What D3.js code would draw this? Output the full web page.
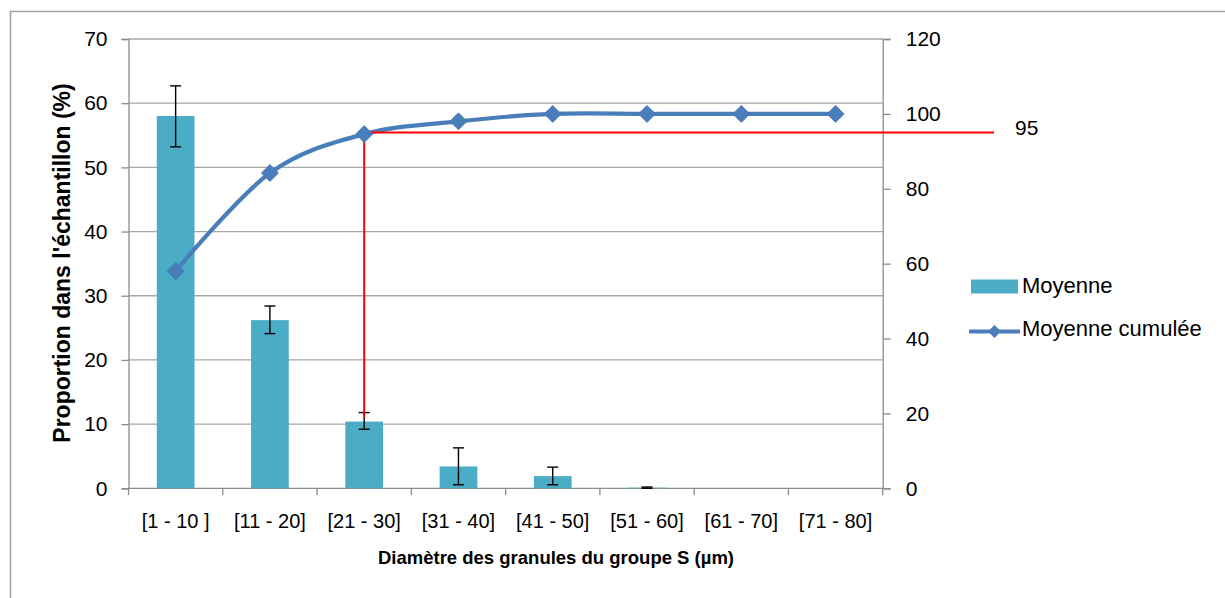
<!DOCTYPE html>
<html>
<head>
<meta charset="utf-8">
<script src="https://cdn.jsdelivr.net/npm/d3@7"></script>
<style>
  html, body { margin: 0; padding: 0; background: #fff; overflow: hidden; }
  svg { display: block; font-family: "Liberation Sans", Arial, sans-serif; }
</style>
</head>
<body>
<svg id="chart" width="1225" height="598"></svg>
<script>
// ---- data ----
const categories = ["[1 - 10 ]", "[11 - 20]", "[21 - 30]", "[31 - 40]", "[41 - 50]", "[51 - 60]", "[61 - 70]", "[71 - 80]"];
const moyenne = [58.0, 26.2, 10.4, 3.4, 1.9, 0.1, 0, 0];
const errUpper = [62.7, 28.4, 11.8, 6.3, 3.3, 0.2, null, null];
const errLower = [53.2, 24.1, 9.2, 0.55, 0.55, 0.0, null, null];
const cumulee = [58.0, 84.2, 94.6, 98.0, 100.0, 100.0, 100.0, 100.0];
const leftTicks = [0, 10, 20, 30, 40, 50, 60, 70];
const rightTicks = [0, 20, 40, 60, 80, 100, 120];
const thresholdValue = 95;
const thresholdCategory = "[21 - 30]";
const thresholdBottomLeft = 11;
const seriesNames = ["Moyenne", "Moyenne cumulée"];
const xTitle = "Diamètre des granules du groupe S (µm)";
const yTitle = "Proportion dans l'échantillon (%)";

// ---- layout ----
const svg = d3.select("#chart");
const L = 128.5, R = 882.7, T = 39, B = 488.3;
const barColor = "#4BACC6", lineColor = "#4A7EBB", gridColor = "#a6a6a6", axisColor = "#8c8c8c";

const x = d3.scaleBand().domain(categories).range([L, R]).padding(0);
const yL = d3.scaleLinear().domain([0, 70]).range([B, T]);
const yR = d3.scaleLinear().domain([0, 120]).range([B, T]);
const cx = c => x(c) + x.bandwidth() / 2;
const barW = x.bandwidth() * 0.4;

// outer frame
svg.append("rect").attr("x", 10.5).attr("y", 11.5).attr("width", 1400).attr("height", 800)
  .attr("fill", "none").attr("stroke", "#a0a0a0").attr("stroke-width", 1.5);

// gridlines
svg.append("g").selectAll("line").data(leftTicks.filter(d => d > 0)).join("line")
  .attr("x1", L).attr("x2", R).attr("y1", d => yL(d)).attr("y2", d => yL(d))
  .attr("stroke", gridColor).attr("stroke-width", 1.3);

// left axis
const gL = svg.append("g").attr("transform", `translate(${L},0)`)
  .call(d3.axisLeft(yL).tickValues(leftTicks).tickSize(7).tickPadding(14));
gL.select(".domain").attr("stroke", axisColor).attr("stroke-width", 1.3);
gL.selectAll(".tick line").attr("stroke", axisColor).attr("stroke-width", 1.3);
gL.selectAll("text").attr("font-size", 21).attr("fill", "#000")
  .attr("font-family", "Liberation Sans, Arial, sans-serif");

// right axis
const gR = svg.append("g").attr("transform", `translate(${R},0)`)
  .call(d3.axisRight(yR).tickValues(rightTicks).tickSize(8).tickPadding(15));
gR.select(".domain").attr("stroke", axisColor).attr("stroke-width", 1.3);
gR.selectAll(".tick line").attr("stroke", axisColor).attr("stroke-width", 1.3);
gR.selectAll("text").attr("font-size", 21).attr("fill", "#000")
  .attr("font-family", "Liberation Sans, Arial, sans-serif");

// bottom axis: ticks at category boundaries
const gB = svg.append("g").attr("transform", `translate(0,${B})`);
gB.append("line").attr("x1", L).attr("x2", R).attr("y1", 0).attr("y2", 0)
  .attr("stroke", axisColor).attr("stroke-width", 1.3);
const boundaries = categories.map(c => x(c)).concat([x(categories[categories.length - 1]) + x.bandwidth()]);
gB.selectAll("line.tk").data(boundaries).join("line").attr("class", "tk")
  .attr("x1", d => d).attr("x2", d => d).attr("y1", 0).attr("y2", 7)
  .attr("stroke", axisColor).attr("stroke-width", 1.3);
gB.selectAll("text").data(categories).join("text")
  .attr("x", d => cx(d)).attr("y", 40).attr("text-anchor", "middle")
  .attr("font-size", 20).attr("fill", "#000").text(d => d);

// bars
svg.append("g").selectAll("rect").data(categories.map((c, i) => ({ c, v: moyenne[i] }))).join("rect")
  .attr("x", d => cx(d.c) - barW / 2).attr("width", barW)
  .attr("y", d => yL(d.v)).attr("height", d => B - yL(d.v))
  .attr("fill", barColor);

// error bars
const errData = categories.map((c, i) => ({ c, hi: errUpper[i], lo: errLower[i] })).filter(d => d.hi !== null);
const gE = svg.append("g").attr("stroke", "#000").attr("stroke-width", 1.4);
gE.selectAll("line.v").data(errData).join("line").attr("class", "v")
  .attr("x1", d => cx(d.c)).attr("x2", d => cx(d.c)).attr("y1", d => yL(d.hi)).attr("y2", d => yL(d.lo));
gE.selectAll("line.h1").data(errData).join("line").attr("class", "h1")
  .attr("x1", d => cx(d.c) - 5.5).attr("x2", d => cx(d.c) + 5.5).attr("y1", d => yL(d.hi)).attr("y2", d => yL(d.hi));
gE.selectAll("line.h2").data(errData).join("line").attr("class", "h2")
  .attr("x1", d => cx(d.c) - 5.5).attr("x2", d => cx(d.c) + 5.5).attr("y1", d => yL(d.lo)).attr("y2", d => yL(d.lo));

// cumulative line
const pts = categories.map((c, i) => [cx(c), yR(cumulee[i])]);
svg.append("path").datum(pts)
  .attr("d", d3.line().curve(d3.curveCatmullRom.alpha(0)))
  .attr("fill", "none").attr("stroke", lineColor).attr("stroke-width", 4.2).attr("stroke-linecap", "round");

// threshold red lines
const tx = cx(thresholdCategory);
svg.append("line").attr("x1", tx).attr("x2", tx).attr("y1", yL(thresholdBottomLeft)).attr("y2", yR(thresholdValue))
  .attr("stroke", "#ff0000").attr("stroke-width", 2);
svg.append("line").attr("x1", tx).attr("x2", 994).attr("y1", yR(thresholdValue)).attr("y2", yR(thresholdValue))
  .attr("stroke", "#ff0000").attr("stroke-width", 2);
svg.append("text").attr("x", 1015).attr("y", yR(thresholdValue) - 3).attr("dominant-baseline", "middle")
  .attr("font-size", 21).attr("fill", "#000").text(String(thresholdValue));

// markers
const diamond = "M0,-8.5L8.5,0L0,8.5L-8.5,0Z";
svg.append("g").selectAll("path").data(pts).join("path")
  .attr("d", diamond).attr("transform", d => `translate(${d[0]},${d[1]})`)
  .attr("fill", lineColor).attr("stroke", "#4374b0").attr("stroke-width", 0.8);

// legend
const lg = svg.append("g");
lg.append("rect").attr("x", 971).attr("y", 279.5).attr("width", 47).attr("height", 14).attr("fill", barColor);
lg.append("text").attr("x", 1022).attr("y", 287).attr("dominant-baseline", "middle")
  .attr("font-size", 22).attr("fill", "#000").text(seriesNames[0]);
lg.append("line").attr("x1", 969).attr("x2", 1020).attr("y1", 331.5).attr("y2", 331.5)
  .attr("stroke", lineColor).attr("stroke-width", 4);
lg.append("path").attr("d", "M0,-6.5L6.5,0L0,6.5L-6.5,0Z").attr("transform", "translate(994.5,331.5)")
  .attr("fill", lineColor);
lg.append("text").attr("x", 1022).attr("y", 330).attr("dominant-baseline", "middle")
  .attr("font-size", 22).attr("fill", "#000").text(seriesNames[1]);

// axis titles
svg.append("text").attr("x", 556).attr("y", 564).attr("text-anchor", "middle")
  .attr("font-size", 18.5).attr("font-weight", "bold").attr("fill", "#000").text(xTitle);
svg.append("text").attr("transform", "translate(70,263) rotate(-90)").attr("text-anchor", "middle")
  .attr("font-size", 23).attr("font-weight", "bold").attr("fill", "#000").text(yTitle);
</script>
</body>
</html>
